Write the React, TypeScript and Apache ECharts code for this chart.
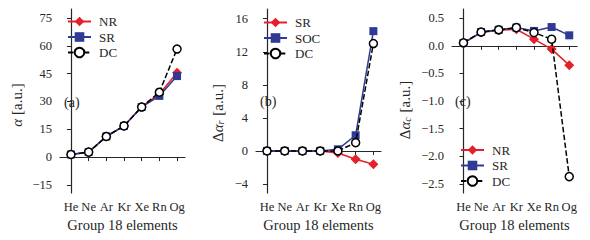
import { useEffect, useRef } from 'react';
import * as echarts from 'echarts';

const elements = ['He', 'Ne', 'Ar', 'Kr', 'Xe', 'Rn', 'Og'];
const xIdx = [0, 1, 2, 3, 4, 5, 6];

// Panel (a): alpha [a.u.]
const aNR = [1.38, 2.67, 11.1, 16.8, 27.2, 34.0, 45.5];
const aSR = [1.38, 2.67, 11.1, 16.8, 27.0, 33.0, 43.7];
const aDC = [1.38, 2.67, 11.1, 16.8, 27.0, 35.0, 58.3];
const aTicks = [-15, 0, 15, 30, 45, 60, 75];

// Panel (b): delta alpha_r [a.u.]
const bSR = [0, 0, 0, 0, -0.25, -1.0, -1.6];
const bSOC = [0, 0, 0, 0, 0.2, 1.9, 14.5];
const bDC = [0, 0, 0, 0, 0, 1.0, 13.0];
const bTicks = [-4, 0, 4, 8, 12, 16];

// Panel (c): delta alpha_c [a.u.]
const cNR = [0.05, 0.24, 0.28, 0.3, 0.12, -0.06, -0.35];
const cSR = [0.05, 0.25, 0.29, 0.33, 0.27, 0.34, 0.19];
const cDC = [0.055, 0.25, 0.29, 0.33, 0.24, 0.12, -2.37];
const cTicks = [-2.5, -2.0, -1.5, -1.0, -0.5, 0.0, 0.5];

const RED = '#e4202a';
const BLUE = '#2e3a93';
const INK = '#262626';
const FONT = 'Liberation Serif';

const minus = (s: string) => s.replace('-', '\u2212');

export default function App() {
  const ref = useRef<HTMLDivElement>(null);
  useEffect(() => {
    document.body.style.margin = '0';
    const chart = echarts.init(ref.current!, undefined, { renderer: 'svg' });

    const grids = [
      { left: 60, top: 9, width: 125, height: 184 },
      { left: 256, top: 9, width: 125, height: 184 },
      { left: 452, top: 9, width: 125, height: 184 },
    ];
    const xRanges = [
      [-0.62, 6.45],
      [-0.62, 6.43],
      [-0.65, 6.44],
    ];
    const yRanges = [
      [-19.4, 79.9],
      [-5.09, 17.18],
      [-2.667, 0.667],
    ];
    const yTicks = [aTicks, bTicks, cTicks];
    const yFmt = [
      (v: number) => minus(String(Math.round(v))),
      (v: number) => minus(String(Math.round(v))),
      (v: number) => minus(v.toFixed(1)),
    ];

    const xAxis = grids.map((_, i) => ({
      type: 'value',
      gridIndex: i,
      min: xRanges[i][0],
      max: xRanges[i][1],
      name: 'Group 18 elements',
      nameLocation: 'middle',
      nameGap: 24,
      nameTextStyle: { fontFamily: FONT, fontSize: 14.5, color: INK },
      axisLine: { show: true, lineStyle: { color: INK, width: 1.2 } },
      axisTick: { show: true, length: 4, lineStyle: { color: INK, width: 1 }, customValues: xIdx },
      axisLabel: {
        show: true,
        customValues: xIdx,
        margin: 7,
        fontFamily: FONT,
        fontSize: 12.5,
        color: INK,
        formatter: (v: number) => elements[Math.round(v)] ?? '',
      },
      splitLine: { show: false },
    }));

    const yAxis = grids.map((_, i) => ({
      type: 'value',
      gridIndex: i,
      min: yRanges[i][0],
      max: yRanges[i][1],
      axisLine: { show: true, lineStyle: { color: INK, width: 1.2 } },
      axisTick: { show: true, length: 4, lineStyle: { color: INK, width: 1 }, customValues: yTicks[i] },
      axisLabel: {
        show: true,
        customValues: yTicks[i],
        margin: 8,
        fontFamily: FONT,
        fontSize: 12.5,
        color: INK,
        formatter: yFmt[i],
      },
      splitLine: { show: false },
    }));

    const mk = (name: string, vals: number[], kind: 'red' | 'blue' | 'dc', g: number, z: number) => {
      const base: any = {
        type: 'line',
        name,
        xAxisIndex: g,
        yAxisIndex: g,
        data: xIdx.map((i) => [i, vals[i]]),
        z,
        showAllSymbol: true,
      };
      if (kind === 'red') {
        return {
          ...base,
          symbol: 'diamond',
          symbolSize: 10,
          itemStyle: { color: RED },
          lineStyle: { color: RED, width: 1.5 },
        };
      }
      if (kind === 'blue') {
        return {
          ...base,
          symbol: 'rect',
          symbolSize: 8,
          itemStyle: { color: BLUE },
          lineStyle: { color: BLUE, width: 1.5 },
        };
      }
      return {
        ...base,
        symbol: 'circle',
        symbolSize: 8,
        itemStyle: { color: '#ffffff', borderColor: '#000000', borderWidth: 1.5 },
        lineStyle: { color: '#000000', width: 1.5, type: [5.5, 2.4] },
      };
    };

    const series = [
      mk('NR (a)', aNR, 'red', 0, 2),
      mk('SR (a)', aSR, 'blue', 0, 3),
      mk('DC (a)', aDC, 'dc', 0, 4),
      mk('SR (b)', bSR, 'red', 1, 2),
      mk('SOC (b)', bSOC, 'blue', 1, 3),
      mk('DC (b)', bDC, 'dc', 1, 4),
      mk('NR (c)', cNR, 'red', 2, 2),
      mk('SR (c)', cSR, 'blue', 2, 3),
      mk('DC (c)', cDC, 'dc', 2, 4),
    ];

    const legendBase = {
      orient: 'vertical',
      itemWidth: 23,
      itemHeight: 12,
      itemGap: 2.5,
      padding: 0,
      selectedMode: false,
      formatter: (n: string) => n.split(' ')[0],
      textStyle: { fontFamily: FONT, fontSize: 13, color: INK, lineHeight: 12, padding: [0, 0, 0, 3] },
    };
    const legend = [
      { ...legendBase, left: 67, top: 15, data: ['NR (a)', 'SR (a)', 'DC (a)'] },
      { ...legendBase, left: 263, top: 16, data: ['SR (b)', 'SOC (b)', 'DC (b)'] },
      { ...legendBase, left: 460, top: 143.5, data: ['NR (c)', 'SR (c)', 'DC (c)'] },
    ];

    const label = (text: string, x: number, y: number) => ({
      type: 'text',
      x,
      y,
      style: { text, fontFamily: FONT, fontSize: 14, fill: INK, align: 'left', verticalAlign: 'middle' },
    });
    const ytitle = (text: string, x: number, y: number) => ({
      type: 'text',
      x,
      y,
      rotation: Math.PI / 2,
      style: {
        text,
        fontFamily: FONT,
        fontSize: 15,
        fill: INK,
        align: 'center',
        verticalAlign: 'middle',
        rich: {
          i: { fontFamily: FONT, fontSize: 15, fontStyle: 'italic', fill: INK },
          n: { fontFamily: FONT, fontSize: 15, fill: INK },
          s: { fontFamily: FONT, fontSize: 10, fontStyle: 'italic', fill: INK, verticalAlign: 'bottom', padding: [4, 1, 0, 0] },
        },
      },
    });

    chart.setOption({
      animation: false,
      backgroundColor: '#ffffff',
      grid: grids,
      xAxis,
      yAxis,
      series,
      legend,
      graphic: [
        label('(a)', 64, 102),
        label('(b)', 260, 101),
        label('(c)', 455, 101),
        ytitle('{i|α} {n|[a.u.]}', 17, 105),
        ytitle('{n|Δ}{i|α}{s|r} {n|[a.u.]}', 218, 113),
        ytitle('{n|Δ}{i|α}{s|c} {n|[a.u.]}', 405, 110),
      ],
    });
    return () => chart.dispose();
  }, []);
  return <div ref={ref} style={{ width: 590, height: 240 }} />;
}
